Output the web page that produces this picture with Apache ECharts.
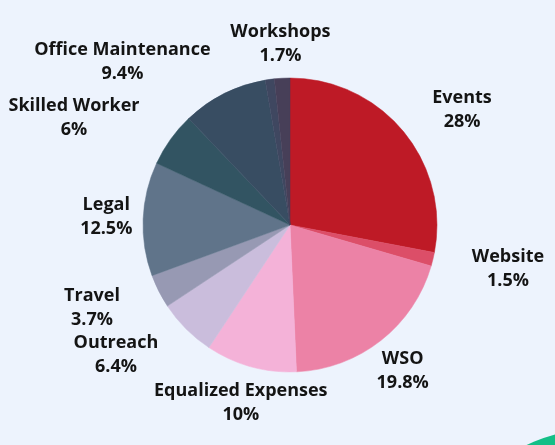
<!DOCTYPE html>
<html>
<head>
<meta charset="utf-8">
<script src="https://cdn.jsdelivr.net/npm/echarts@6/dist/echarts.min.js"></script>
<style>
  html, body { margin: 0; padding: 0; background: #EDF3FD; }
  #chart { width: 555px; height: 445px; }
</style>
</head>
<body>
<div id="chart"></div>
<script>
// Budget split, clockwise from 12 o'clock
const categories = ['Events', 'Website', 'WSO', 'Equalized Expenses', 'Outreach', 'Travel',
  'Legal', 'Skilled Worker', 'Office Maintenance', 'Other', 'Workshops'];
const shares = [28, 1.5, 19.8, 10, 6.4, 3.7, 12.5, 6, 9.4, 1.0, 1.7];
const sliceColors = ['#BE1A26', '#DC4E68', '#EC82A6', '#F4B2D8', '#CABDDC', '#9799B3',
  '#60748A', '#325462', '#384D62', '#3F4760', '#473F58'];
const labelled = [true, true, true, true, true, true, true, true, true, false, true];

// Label anchor for each slice: [distance from pie centre, angle clockwise from top]
const labelPolar = [
  [208, 55.8], [222, 101], [183, 142], [183, 195.6], [216, 233.7], [214, 247.7],
  [184, 273], [242, 296.8], [235, 314.5], [0, 0], [183, 357]
];
const pieCenter = [290, 225];

const chart = echarts.init(document.getElementById('chart'), null, { renderer: 'canvas' });

chart.setOption({
  backgroundColor: '#EDF3FD',
  animation: false,
  graphic: [{
    type: 'circle',
    shape: { cx: 600, cy: 600, r: 171.5 },
    style: { fill: '#13BF87' },
    silent: true,
    z: 0
  }],
  series: [{
    type: 'pie',
    center: pieCenter,
    radius: 147,
    startAngle: 90,
    clockwise: true,
    avoidLabelOverlap: false,
    label: {
      show: true,
      position: 'outside',
      formatter: p => p.name + '\n' + p.value + '%',
      fontFamily: 'Open Sans',
      fontWeight: 'bold',
      fontSize: 18,
      lineHeight: 24,
      color: '#141414',
      align: 'center'
    },
    labelLine: { show: false },
    labelLayout: params => {
      const [d, a] = labelPolar[params.dataIndex];
      const rad = a * Math.PI / 180;
      return {
        x: pieCenter[0] + d * Math.sin(rad),
        y: pieCenter[1] - d * Math.cos(rad) + 2,
        align: 'center',
        verticalAlign: 'middle'
      };
    },
    data: categories.map((name, i) => ({
      name,
      value: shares[i],
      itemStyle: { color: sliceColors[i], borderColor: sliceColors[i], borderWidth: 0.5 },
      label: { show: labelled[i] }
    }))
  }]
});
</script>
</body>
</html>
